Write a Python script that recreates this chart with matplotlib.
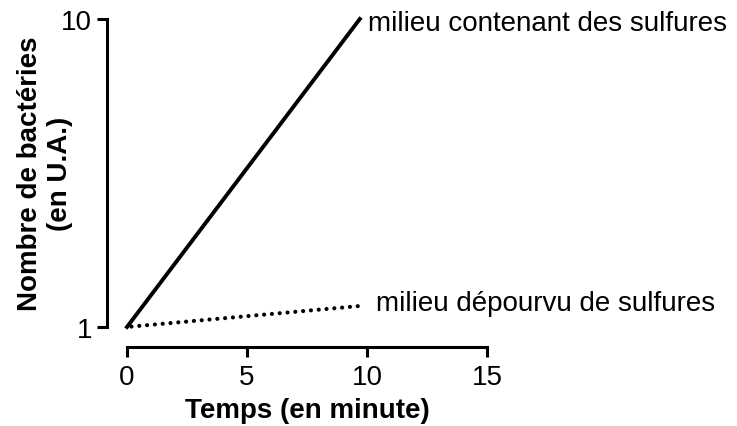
import matplotlib
matplotlib.use("Agg")
import matplotlib.pyplot as plt

plt.rcParams['font.family'] = ['Liberation Sans', 'DejaVu Sans']

# data (temps en minute, nombre de bactéries en U.A.)
temps = [0, 9.7]
avec_sulfures = [1, 10]
temps_sans = [0, 9.7]
sans_sulfures = [1, 1.17]

x_ticks = [0, 5, 10, 15]
y_ticks = [1, 10]

fig = plt.figure(figsize=(7.37, 4.27), dpi=100)
ax = fig.add_axes([0.1723, 0.2319, 0.4885, 0.7213])

ax.plot(temps, avec_sulfures, color='black', lw=2.8, clip_on=False)
ax.plot(temps_sans, sans_sulfures, color='black', lw=3.0, ls=(0.8, (0.01, 1.87)),
        dash_capstyle='round', clip_on=False)

ax.set_yscale('log')
ax.set_xlim(0, 15)
ax.set_ylim(1, 10)
ax.set_xticks(x_ticks)
ax.set_xticklabels([str(t) for t in x_ticks])
ax.set_yticks(y_ticks)
ax.set_yticklabels([str(t) for t in y_ticks])
ax.yaxis.set_minor_locator(matplotlib.ticker.NullLocator())

for s in ['top', 'right']:
    ax.spines[s].set_visible(False)
for s in ['left', 'bottom']:
    ax.spines[s].set_linewidth(2.2)
    ax.spines[s].set_position(('outward', 14.4))
ax.tick_params(width=2.2, length=7.2, labelsize=20)
ax.tick_params(axis='x', pad=5)
ax.tick_params(axis='y', pad=3.6)

ax.set_xlabel('Temps (en minute)', fontsize=20, fontweight='bold', labelpad=5)
fig.text(0.061, 0.5925, 'Nombre de bactéries\n(en U.A.)', rotation=90,
         ha='center', va='center', fontsize=20, fontweight='bold')

ax.annotate('milieu contenant des sulfures', xy=(temps[-1], avec_sulfures[-1]),
            xytext=(6, -3), textcoords='offset points', va='center', ha='left',
            fontsize=20, annotation_clip=False)
ax.annotate('milieu dépourvu de sulfures', xy=(temps_sans[-1], sans_sulfures[-1]),
            xytext=(12, 2), textcoords='offset points', va='center', ha='left',
            fontsize=20, annotation_clip=False)

fig.savefig('out.png', dpi=100)
